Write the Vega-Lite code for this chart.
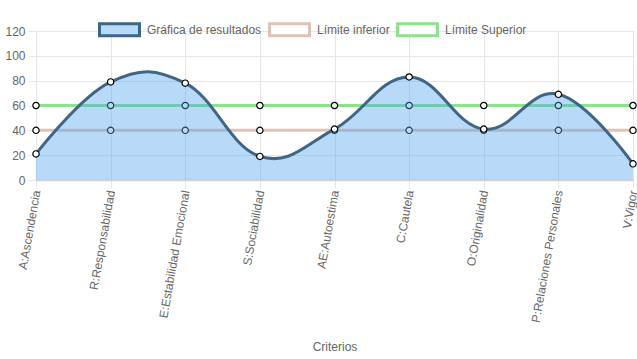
{
  "$schema": "https://vega.github.io/schema/vega-lite/v6.json",
  "autosize": {"type": "none"},
  "width": 597,
  "height": 149,
  "padding": {"left": 36, "top": 31, "right": 4, "bottom": 179},
  "background": "#ffffff",
  "config": {
    "font": "Liberation Sans",
    "view": {"stroke": null},
    "axis": {
      "labelFont": "Liberation Sans",
      "labelFontSize": 12,
      "labelColor": "#666666",
      "titleFont": "Liberation Sans",
      "titleFontSize": 12,
      "titleFontWeight": "normal",
      "titleColor": "#666666",
      "gridColor": "#e6e6e6",
      "tickColor": "#e6e6e6",
      "domain": false
    }
  },
  "data": {
    "values": [
      {"criterio": "A:Ascendencia", "serie": "Gráfica de resultados", "valor": 21},
      {"criterio": "R:Responsabilidad", "serie": "Gráfica de resultados", "valor": 79},
      {"criterio": "E:Estabilidad Emocional", "serie": "Gráfica de resultados", "valor": 78},
      {"criterio": "S:Sociabilidad", "serie": "Gráfica de resultados", "valor": 19},
      {"criterio": "AE:Autoestima", "serie": "Gráfica de resultados", "valor": 41},
      {"criterio": "C:Cautela", "serie": "Gráfica de resultados", "valor": 83},
      {"criterio": "O:Originalidad", "serie": "Gráfica de resultados", "valor": 41},
      {"criterio": "P:Relaciones Personales", "serie": "Gráfica de resultados", "valor": 69},
      {"criterio": "V:Vigor", "serie": "Gráfica de resultados", "valor": 13},
      {"criterio": "A:Ascendencia", "serie": "Límite inferior", "valor": 40},
      {"criterio": "R:Responsabilidad", "serie": "Límite inferior", "valor": 40},
      {"criterio": "E:Estabilidad Emocional", "serie": "Límite inferior", "valor": 40},
      {"criterio": "S:Sociabilidad", "serie": "Límite inferior", "valor": 40},
      {"criterio": "AE:Autoestima", "serie": "Límite inferior", "valor": 40},
      {"criterio": "C:Cautela", "serie": "Límite inferior", "valor": 40},
      {"criterio": "O:Originalidad", "serie": "Límite inferior", "valor": 40},
      {"criterio": "P:Relaciones Personales", "serie": "Límite inferior", "valor": 40},
      {"criterio": "V:Vigor", "serie": "Límite inferior", "valor": 40},
      {"criterio": "A:Ascendencia", "serie": "Límite Superior", "valor": 60},
      {"criterio": "R:Responsabilidad", "serie": "Límite Superior", "valor": 60},
      {"criterio": "E:Estabilidad Emocional", "serie": "Límite Superior", "valor": 60},
      {"criterio": "S:Sociabilidad", "serie": "Límite Superior", "valor": 60},
      {"criterio": "AE:Autoestima", "serie": "Límite Superior", "valor": 60},
      {"criterio": "C:Cautela", "serie": "Límite Superior", "valor": 60},
      {"criterio": "O:Originalidad", "serie": "Límite Superior", "valor": 60},
      {"criterio": "P:Relaciones Personales", "serie": "Límite Superior", "valor": 60},
      {"criterio": "V:Vigor", "serie": "Límite Superior", "valor": 60}
    ]
  },
  "encoding": {
    "x": {
      "field": "criterio",
      "type": "nominal",
      "sort": null,
      "scale": {"type": "point", "padding": 0},
      "axis": {
        "title": "Criterios",
        "labelAngle": -80,
        "labelAlign": "right",
        "labelBaseline": "middle",
        "tickSize": 8,
        "labelPadding": 2,
        "grid": true,
        "domain": true,
        "domainColor": "#d2d2d2",
        "domainWidth": 1.5,
        "titleBaseline": "alphabetic",
        "titleY": 170
      }
    },
    "y": {
      "field": "valor",
      "type": "quantitative",
      "scale": {"domain": [0, 120], "nice": false},
      "axis": {
        "title": null,
        "values": [0, 20, 40, 60, 80, 100, 120],
        "tickSize": 8,
        "labelPadding": 3,
        "grid": true
      }
    }
  },
  "layer": [
    {
      "transform": [{"filter": "datum.serie !== 'Gráfica de resultados'"}],
      "mark": {"type": "line", "strokeWidth": 3},
      "encoding": {
        "stroke": {
          "field": "serie",
          "type": "nominal",
          "scale": {
            "domain": ["Gráfica de resultados", "Límite inferior", "Límite Superior"],
            "range": ["#3f6587", "#e0c3b7", "#8de28d"]
          },
          "legend": {
            "title": null,
            "orient": "none",
            "direction": "horizontal",
            "legendX": 62,
            "legendY": -23,
            "symbolType": "M-1,-0.3H1V0.3H-1Z",
            "symbolSize": 1600,
            "symbolStrokeWidth": 3,
            "labelFont": "Liberation Sans",
            "labelFontSize": 12,
            "labelColor": "#666666",
            "labelOffset": 6,
            "columnPadding": 1,
            "encode": {
              "symbols": {
                "update": {
                  "fill": {"signal": "datum.value === 'Gráfica de resultados' ? '#b8dbf8' : '#ffffff'"},
                  "fillOpacity": {"value": 1},
                  "opacity": {"value": 1}
                }
              }
            }
          }
        },
        "detail": {"field": "serie"}
      }
    },
    {
      "transform": [{"filter": "datum.serie !== 'Gráfica de resultados'"}],
      "mark": {"type": "point", "filled": false, "fill": "#ffffff", "fillOpacity": 1, "stroke": "#000000", "strokeWidth": 1.2, "size": 40, "opacity": 1}
    },
    {
      "transform": [{"filter": "datum.serie === 'Gráfica de resultados'"}],
      "mark": {"type": "area", "interpolate": "cardinal", "tension": -0.2, "color": "#4ea3ee", "opacity": 0.4}
    },
    {
      "transform": [{"filter": "datum.serie === 'Gráfica de resultados'"}],
      "mark": {"type": "line", "interpolate": "cardinal", "tension": -0.2, "strokeWidth": 3},
      "encoding": {
        "stroke": {"field": "serie", "type": "nominal"}
      }
    },
    {
      "transform": [{"filter": "datum.serie === 'Gráfica de resultados'"}],
      "mark": {"type": "point", "filled": false, "fill": "#ffffff", "fillOpacity": 1, "stroke": "#000000", "strokeWidth": 1.2, "size": 40, "opacity": 1}
    }
  ]
}
